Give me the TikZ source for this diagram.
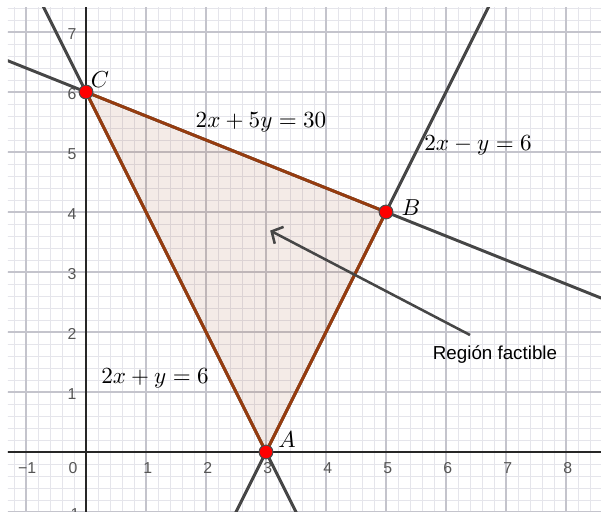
\documentclass[tikz,border=0pt]{standalone}
\usepackage{fontspec}
\newfontfamily\lsans{Liberation Sans}
\usetikzlibrary{arrows.meta}
\definecolor{gline}{RGB}{70,70,70}
\definecolor{edgebrown}{RGB}{150,60,15}
\definecolor{majorg}{RGB}{196,196,204}
\definecolor{minorg}{RGB}{229,229,235}
\definecolor{ticklab}{RGB}{85,85,85}
\definecolor{ptred}{RGB}{255,0,0}
\begin{document}
\begin{tikzpicture}[x=1cm,y=1cm,
  minorgrid/.style={minorg, line width=0.45pt},
  majorgrid/.style={majorg, line width=0.7pt},
  axisline/.style={black!85, line width=0.65pt},
  ticklabel/.style={text=ticklab, font=\lsans\fontsize{7.5}{8}\selectfont, inner sep=0pt},
  conline/.style={gline, line width=1.4pt},
  edgeline/.style={edgebrown, line width=1.4pt, line cap=round},
  region/.style={fill=edgebrown, fill opacity=0.1},
  pt/.style={circle, fill=ptred, draw=black!70, line width=0.5pt, minimum size=0.23cm, inner sep=0pt},
  ptlabel/.style={font=\fontsize{11}{13}\selectfont, inner sep=0pt},
  eqlabel/.style={font=\fontsize{11}{13}\selectfont, inner sep=0pt},
  callout/.style={gline, line width=1.2pt, -{Straight Barb[length=4pt,width=9pt,line width=1.2pt]}},
  calltext/.style={font=\lsans\fontsize{8.9}{10}\selectfont, inner sep=0pt}]
\useasboundingbox (-1.4333,-0.9833) rectangle (8.5833,7.5333);
\begin{scope}
\clip (-1.3,-0.9833) rectangle (8.5833,7.4167);
% grid
\draw[minorgrid] (-1.4,-1) grid[step=0.2] (8.6,7.6);
\draw[majorgrid] (-2,-1) grid[step=1] (9,8);
% axes
\coordinate (xl) at (-1.5,0); \coordinate (xr) at (8.7,0);
\coordinate (yb) at (0,-1.1); \coordinate (yt) at (0,7.6);
\draw[axisline] (xl) -- (xr);
\draw[axisline] (yb) -- (yt);
% tick labels
\node[ticklabel] (tx0) at (-0.217,-0.267) {0};
\node[ticklabel] (txm1) at (-0.98,-0.267) {−1};
\foreach \i in {1,2,3,4,5,6,7,8} {
  \node[ticklabel] (tx\i) at (\i+0.03,-0.267) {\i};
}
\node[ticklabel] (tym1) at (-0.26,-1.033) {−1};
\foreach \j in {1,2,3,4,5,6,7} {
  \node[ticklabel] (ty\j) at (-0.233,\j-0.033) {\j};
}
% points as coordinates
\coordinate (pA) at (3,0);
\coordinate (pB) at (5,4);
\coordinate (pC) at (0,6);
% feasible region
\fill[region] (pA) -- (pB) -- (pC) -- cycle;
% constraint lines (extended)
\coordinate (l1a) at (-1.5,6.6); \coordinate (l1b) at (8.7,2.52);   % 2x+5y=30
\coordinate (l2a) at (-0.8,7.6); \coordinate (l2b) at (3.55,-1.1);  % 2x+y=6
\coordinate (l3a) at (6.8,7.6);  \coordinate (l3b) at (2.45,-1.1);  % 2x-y=6
\draw[conline] (l1a) -- (l1b);
\draw[conline] (l2a) -- (l2b);
\draw[conline] (l3a) -- (l3b);
% triangle edges
\draw[edgeline] (pA) -- (pB) -- (pC) -- cycle;
% callout arrow
\coordinate (arS) at (6.4,1.95);
\coordinate (arE) at (3.07,3.69);
\draw[callout] (arS) -- (arE);
\node[calltext] (rf) at (6.817,1.617) {Región factible};
% points
\node[pt] (A) at (pA) {};
\node[pt] (B) at (pB) {};
\node[pt] (C) at (pC) {};
\node[ptlabel] (Alab) at (3.35,0.2) {$A$};
\node[ptlabel] (Blab) at (5.417,4.067) {$B$};
\node[ptlabel] (Clab) at (0.233,6.2) {$C$};
% equation labels
\node[eqlabel] (e1) at (2.917,5.5) {$2x+5y=30$};
\node[eqlabel] (e2) at (6.533,5.117) {$2x-y=6$};
\node[eqlabel] (e3) at (1.15,1.233) {$2x+y=6$};
\end{scope}
\end{tikzpicture}
\end{document}
